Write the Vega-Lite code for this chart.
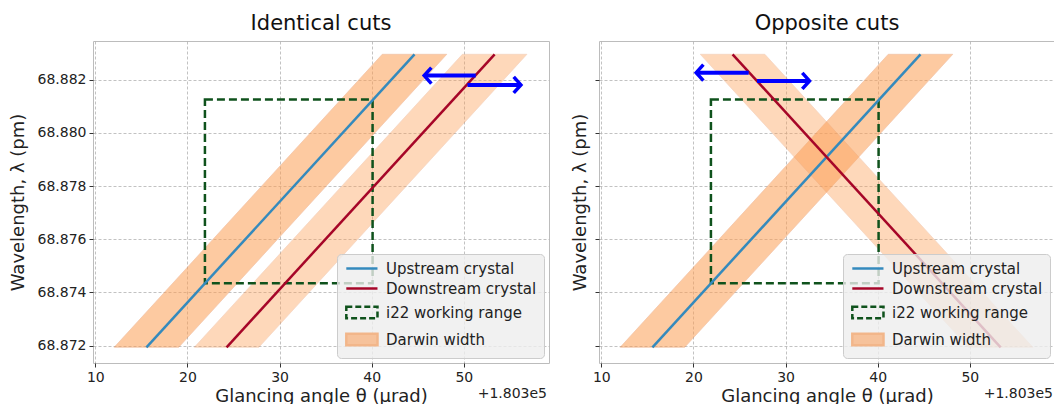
{
  "$schema": "https://vega.github.io/schema/vega-lite/v6.json",
  "background": "white",
  "padding": {"left": 8, "top": 12, "right": 2, "bottom": 0},
  "config": {
    "font": "DejaVu Sans",
    "view": {"fill": "#eeeeee", "stroke": "#bcbcbc", "strokeWidth": 1},
    "axis": {
      "labelFont": "DejaVu Sans", "labelFontSize": 14, "labelColor": "#222222",
      "titleFont": "DejaVu Sans", "titleFontSize": 18, "titleFontWeight": "normal", "titleColor": "#222222",
      "grid": true, "gridColor": "#b2b2b2", "gridDash": [3, 2], "gridWidth": 0.8,
      "domain": false, "tickColor": "#333333", "tickSize": 4, "labelPadding": 3
    },
    "title": {"font": "DejaVu Sans", "fontSize": 21, "fontWeight": "normal", "color": "#111111", "offset": 7},
    "legend": {
      "orient": "bottom-right", "offset": 5, "padding": 7, "rowPadding": 4,
      "fillColor": "rgba(238,238,238,0.8)", "strokeColor": "#cccccc", "cornerRadius": 4,
      "labelFont": "DejaVu Sans", "labelFontSize": 15, "labelColor": "#222222", "labelLimit": 300,
      "symbolSize": 108, "labelOffset": 27, "symbolOpacity": 1, "symbolStrokeWidth": 2.5
    },
    "concat": {"spacing": 21}
  },
  "datasets": {
    "bands": [
      {"panel": "Identical cuts", "band": "Upstream", "series": "Darwin width", "y": 68.87194, "xlo": 12.05, "xhi": 19.05},
      {"panel": "Identical cuts", "band": "Upstream", "series": "Darwin width", "y": 68.88295, "xlo": 41.15, "xhi": 48.15},
      {"panel": "Identical cuts", "band": "Downstream", "series": "Darwin width", "y": 68.87194, "xlo": 20.75, "xhi": 27.75},
      {"panel": "Identical cuts", "band": "Downstream", "series": "Darwin width", "y": 68.88295, "xlo": 49.85, "xhi": 56.85},
      {"panel": "Opposite cuts", "band": "Upstream", "series": "Darwin width", "y": 68.87194, "xlo": 12.05, "xhi": 19.05},
      {"panel": "Opposite cuts", "band": "Upstream", "series": "Darwin width", "y": 68.88295, "xlo": 41.15, "xhi": 48.15},
      {"panel": "Opposite cuts", "band": "Downstream", "series": "Darwin width", "y": 68.87194, "xlo": 49.85, "xhi": 56.85},
      {"panel": "Opposite cuts", "band": "Downstream", "series": "Darwin width", "y": 68.88295, "xlo": 20.75, "xhi": 27.75}
    ],
    "lines": [
      {"panel": "Identical cuts", "series": "Upstream crystal", "x": 15.55, "y": 68.87194},
      {"panel": "Identical cuts", "series": "Upstream crystal", "x": 44.65, "y": 68.88295},
      {"panel": "Identical cuts", "series": "Downstream crystal", "x": 24.25, "y": 68.87194},
      {"panel": "Identical cuts", "series": "Downstream crystal", "x": 53.35, "y": 68.88295},
      {"panel": "Opposite cuts", "series": "Upstream crystal", "x": 15.55, "y": 68.87194},
      {"panel": "Opposite cuts", "series": "Upstream crystal", "x": 44.65, "y": 68.88295},
      {"panel": "Opposite cuts", "series": "Downstream crystal", "x": 24.25, "y": 68.88295},
      {"panel": "Opposite cuts", "series": "Downstream crystal", "x": 53.35, "y": 68.87194}
    ],
    "ranges": [
      {"panel": "Identical cuts", "series": "i22 working range", "x1": 21.9, "x2": 40.1, "y1": 68.87435, "y2": 68.88125},
      {"panel": "Opposite cuts", "series": "i22 working range", "x1": 21.9, "x2": 40.1, "y1": 68.87435, "y2": 68.88125}
    ],
    "arrows": [
      {"panel": "Identical cuts", "dir": "left", "xstart": 51.3, "xend": 45.7, "y": 68.88215},
      {"panel": "Identical cuts", "dir": "right", "xstart": 50.4, "xend": 56.2, "y": 68.8818},
      {"panel": "Opposite cuts", "dir": "left", "xstart": 26.0, "xend": 20.3, "y": 68.88226},
      {"panel": "Opposite cuts", "dir": "right", "xstart": 26.9, "xend": 32.6, "y": 68.88195}
    ],
    "legendkeys": [
      {"series": "Upstream crystal"},
      {"series": "Downstream crystal"},
      {"series": "i22 working range"},
      {"series": "Darwin width"}
    ],
    "offsets": [{"label": "+1.803e5"}]
  },
  "resolve": {
    "scale": {"color": "independent", "stroke": "independent", "fill": "independent", "shape": "independent", "strokeDash": "independent", "x": "independent", "y": "independent"},
    "legend": {"color": "independent", "stroke": "independent", "fill": "independent", "shape": "independent", "strokeDash": "independent"}
  },
  "hconcat": [
    {
      "title": "Identical cuts",
      "width": 456, "height": 322,
      "layer": [
        {
          "data": {"name": "bands"},
          "transform": [{"filter": "datum.panel === 'Identical cuts'"}],
          "mark": {"type": "area", "orient": "horizontal", "fill": "#FD9F55", "stroke": "#e8935f", "strokeWidth": 0.8, "strokeOpacity": 0.9},
          "encoding": {
            "y": {"field": "y", "type": "quantitative", "scale": {"domain": [68.87135, 68.88345], "nice": false, "zero": false},
                  "axis": {"values": [68.872, 68.874, 68.876, 68.878, 68.88, 68.882], "format": ".3f", "title": "Wavelength, λ (pm)", "titlePadding": 10}},
            "x": {"field": "xlo", "type": "quantitative", "scale": {"domain": [9.75, 59.25], "nice": false, "zero": false},
                  "axis": {"values": [10, 20, 30, 40, 50], "title": "Glancing angle θ (μrad)", "titlePadding": 3}},
            "x2": {"field": "xhi"},
            "detail": {"field": "band"},
            "opacity": {"condition": {"test": "datum.band === 'Upstream'", "value": 0.55}, "value": 0.4}
          }
        },
        {
          "data": {"name": "ranges"},
          "transform": [{"filter": "datum.panel === 'Identical cuts'"}],
          "mark": {"type": "rect", "filled": false, "stroke": "#0f521c", "strokeWidth": 2.5, "strokeDash": [8, 4]},
          "encoding": {
            "x": {"field": "x1", "type": "quantitative"},
            "x2": {"field": "x2"},
            "y": {"field": "y1", "type": "quantitative"},
            "y2": {"field": "y2"}
          }
        },
        {
          "data": {"name": "lines"},
          "transform": [{"filter": "datum.panel === 'Identical cuts'"}],
          "mark": {"type": "line", "strokeWidth": 2.5},
          "encoding": {
            "x": {"field": "x", "type": "quantitative"},
            "y": {"field": "y", "type": "quantitative"},
            "color": {"field": "series", "type": "nominal", "legend": null,
              "scale": {"domain": ["Upstream crystal", "Downstream crystal"], "range": ["#348ABD", "#A60628"]}}
          }
        },
        {
          "data": {"name": "arrows"},
          "transform": [{"filter": "datum.panel === 'Identical cuts'"}],
          "mark": {"type": "rule", "color": "#0000ff", "strokeWidth": 4},
          "encoding": {
            "x": {"field": "xstart", "type": "quantitative"},
            "x2": {"field": "xend"},
            "y": {"field": "y", "type": "quantitative"}
          }
        },
        {
          "data": {"name": "arrows"},
          "transform": [{"filter": "datum.panel === 'Identical cuts'"}],
          "mark": {"type": "point", "filled": false, "stroke": "#0000ff", "strokeWidth": 3.5, "size": 256, "opacity": 1, "strokeJoin": "miter"},
          "encoding": {
            "x": {"field": "xend", "type": "quantitative"},
            "y": {"field": "y", "type": "quantitative"},
            "shape": {"condition": {"test": "datum.dir === 'left'", "value": "M0.9,-1L0,0L0.9,1"}, "value": "M-0.9,-1L0,0L-0.9,1"}
          }
        },
        {
          "data": {"name": "legendkeys"},
          "transform": [{"filter": "false"}],
          "mark": {"type": "point", "strokeWidth": 2.5, "opacity": 1},
          "encoding": {
            "stroke": {"field": "series", "type": "nominal", "legend": {"title": null},
              "scale": {"domain": ["Upstream crystal", "Downstream crystal", "i22 working range", "Darwin width"], "range": ["#348ABD", "#A60628", "#0f521c", "#F2B68A"]}},
            "fill": {"field": "series", "type": "nominal", "legend": {"title": null},
              "scale": {"domain": ["Upstream crystal", "Downstream crystal", "i22 working range", "Darwin width"], "range": ["transparent", "transparent", "transparent", "#F6C29B"]}},
            "shape": {"field": "series", "type": "nominal", "legend": {"title": null},
              "scale": {"domain": ["Upstream crystal", "Downstream crystal", "i22 working range", "Darwin width"], "range": ["M-1,0H5", "M-1,0H5", "M-1,-1.1H5V1.1H-1Z", "M-1,-1.1H5V1.1H-1Z"]}},
            "strokeDash": {"field": "series", "type": "nominal", "legend": {"title": null},
              "scale": {"domain": ["Upstream crystal", "Downstream crystal", "i22 working range", "Darwin width"], "range": [[1, 0], [1, 0], [6, 3], [1, 0]]}}
          }
        },
        {
          "data": {"name": "offsets"},
          "mark": {"type": "text", "align": "right", "baseline": "middle", "fontSize": 14, "color": "#222222", "dy": 31, "dx": -2},
          "encoding": {
            "x": {"datum": 59.25, "type": "quantitative"},
            "y": {"datum": 68.87135, "type": "quantitative"},
            "text": {"field": "label"}
          }
        }
      ]
    },
    {
      "title": "Opposite cuts",
      "width": 456, "height": 322,
      "layer": [
        {
          "data": {"name": "bands"},
          "transform": [{"filter": "datum.panel === 'Opposite cuts'"}],
          "mark": {"type": "area", "orient": "horizontal", "fill": "#FD9F55", "stroke": "#e8935f", "strokeWidth": 0.8, "strokeOpacity": 0.9},
          "encoding": {
            "y": {"field": "y", "type": "quantitative", "scale": {"domain": [68.87135, 68.88345], "nice": false, "zero": false},
                  "axis": {"values": [68.872, 68.874, 68.876, 68.878, 68.88, 68.882], "labels": false, "title": "Wavelength, λ (pm)", "titlePadding": 5}},
            "x": {"field": "xlo", "type": "quantitative", "scale": {"domain": [9.75, 59.25], "nice": false, "zero": false},
                  "axis": {"values": [10, 20, 30, 40, 50], "title": "Glancing angle θ (μrad)", "titlePadding": 3}},
            "x2": {"field": "xhi"},
            "detail": {"field": "band"},
            "opacity": {"condition": {"test": "datum.band === 'Upstream'", "value": 0.55}, "value": 0.4}
          }
        },
        {
          "data": {"name": "ranges"},
          "transform": [{"filter": "datum.panel === 'Opposite cuts'"}],
          "mark": {"type": "rect", "filled": false, "stroke": "#0f521c", "strokeWidth": 2.5, "strokeDash": [8, 4]},
          "encoding": {
            "x": {"field": "x1", "type": "quantitative"},
            "x2": {"field": "x2"},
            "y": {"field": "y1", "type": "quantitative"},
            "y2": {"field": "y2"}
          }
        },
        {
          "data": {"name": "lines"},
          "transform": [{"filter": "datum.panel === 'Opposite cuts'"}],
          "mark": {"type": "line", "strokeWidth": 2.5},
          "encoding": {
            "x": {"field": "x", "type": "quantitative"},
            "y": {"field": "y", "type": "quantitative"},
            "color": {"field": "series", "type": "nominal", "legend": null,
              "scale": {"domain": ["Upstream crystal", "Downstream crystal"], "range": ["#348ABD", "#A60628"]}}
          }
        },
        {
          "data": {"name": "arrows"},
          "transform": [{"filter": "datum.panel === 'Opposite cuts'"}],
          "mark": {"type": "rule", "color": "#0000ff", "strokeWidth": 4},
          "encoding": {
            "x": {"field": "xstart", "type": "quantitative"},
            "x2": {"field": "xend"},
            "y": {"field": "y", "type": "quantitative"}
          }
        },
        {
          "data": {"name": "arrows"},
          "transform": [{"filter": "datum.panel === 'Opposite cuts'"}],
          "mark": {"type": "point", "filled": false, "stroke": "#0000ff", "strokeWidth": 3.5, "size": 256, "opacity": 1, "strokeJoin": "miter"},
          "encoding": {
            "x": {"field": "xend", "type": "quantitative"},
            "y": {"field": "y", "type": "quantitative"},
            "shape": {"condition": {"test": "datum.dir === 'left'", "value": "M0.9,-1L0,0L0.9,1"}, "value": "M-0.9,-1L0,0L-0.9,1"}
          }
        },
        {
          "data": {"name": "legendkeys"},
          "transform": [{"filter": "false"}],
          "mark": {"type": "point", "strokeWidth": 2.5, "opacity": 1},
          "encoding": {
            "stroke": {"field": "series", "type": "nominal", "legend": {"title": null},
              "scale": {"domain": ["Upstream crystal", "Downstream crystal", "i22 working range", "Darwin width"], "range": ["#348ABD", "#A60628", "#0f521c", "#F2B68A"]}},
            "fill": {"field": "series", "type": "nominal", "legend": {"title": null},
              "scale": {"domain": ["Upstream crystal", "Downstream crystal", "i22 working range", "Darwin width"], "range": ["transparent", "transparent", "transparent", "#F6C29B"]}},
            "shape": {"field": "series", "type": "nominal", "legend": {"title": null},
              "scale": {"domain": ["Upstream crystal", "Downstream crystal", "i22 working range", "Darwin width"], "range": ["M-1,0H5", "M-1,0H5", "M-1,-1.1H5V1.1H-1Z", "M-1,-1.1H5V1.1H-1Z"]}},
            "strokeDash": {"field": "series", "type": "nominal", "legend": {"title": null},
              "scale": {"domain": ["Upstream crystal", "Downstream crystal", "i22 working range", "Darwin width"], "range": [[1, 0], [1, 0], [6, 3], [1, 0]]}}
          }
        },
        {
          "data": {"name": "offsets"},
          "mark": {"type": "text", "align": "right", "baseline": "middle", "fontSize": 14, "color": "#222222", "dy": 31, "dx": -2},
          "encoding": {
            "x": {"datum": 59.25, "type": "quantitative"},
            "y": {"datum": 68.87135, "type": "quantitative"},
            "text": {"field": "label"}
          }
        }
      ]
    }
  ]
}
